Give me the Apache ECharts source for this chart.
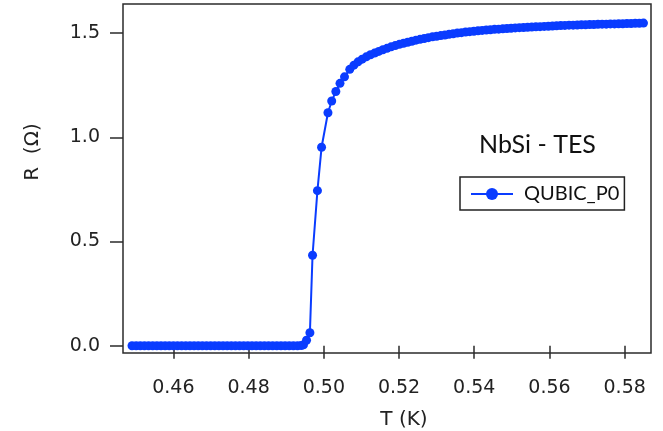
<!DOCTYPE html>
<html>
<head>
<meta charset="utf-8">
<script src="https://cdn.jsdelivr.net/npm/echarts@6/dist/echarts.min.js"></script>
<style>
html,body{margin:0;padding:0;background:#fff;}
#chart{width:663px;height:431px;}
</style>
</head>
<body>
<div id="chart"></div>
<script>
// Temperature (K)
const temperatureK = [
  0.4490, 0.4501, 0.4512, 0.4523, 0.4534, 0.4545, 0.4556, 0.4567, 0.4578, 0.4589,
  0.4600, 0.4611, 0.4622, 0.4633, 0.4644, 0.4655, 0.4666, 0.4677, 0.4688, 0.4699,
  0.4710, 0.4721, 0.4732, 0.4743, 0.4754, 0.4765, 0.4776, 0.4787, 0.4798, 0.4809,
  0.4820, 0.4831, 0.4842, 0.4853, 0.4864, 0.4875, 0.4886, 0.4897, 0.4908, 0.4919,
  0.4930, 0.4940, 0.4946, 0.4954, 0.4963, 0.4970, 0.4983, 0.4994, 0.5011, 0.5021,
  0.5032, 0.5043, 0.5055, 0.5069, 0.5080, 0.5091, 0.5102, 0.5113, 0.5124, 0.5135,
  0.5146, 0.5157, 0.5168, 0.5179, 0.5190, 0.5201, 0.5212, 0.5223, 0.5234, 0.5245,
  0.5256, 0.5267, 0.5278, 0.5289, 0.5300, 0.5311, 0.5322, 0.5333, 0.5344, 0.5355,
  0.5366, 0.5377, 0.5388, 0.5399, 0.5410, 0.5421, 0.5432, 0.5443, 0.5454, 0.5465,
  0.5476, 0.5487, 0.5498, 0.5509, 0.5520, 0.5531, 0.5542, 0.5553, 0.5564, 0.5575,
  0.5586, 0.5597, 0.5608, 0.5619, 0.5630, 0.5641, 0.5652, 0.5663, 0.5674, 0.5685,
  0.5696, 0.5707, 0.5718, 0.5729, 0.5740, 0.5751, 0.5762, 0.5773, 0.5784, 0.5795,
  0.5806, 0.5817, 0.5828, 0.5839, 0.5850
];
// Resistance (Ohm)
const resistanceOhm = [
  0.000, 0.000, 0.000, 0.000, 0.000, 0.000, 0.000, 0.000, 0.000, 0.000,
  0.000, 0.000, 0.000, 0.000, 0.000, 0.000, 0.000, 0.000, 0.000, 0.000,
  0.000, 0.000, 0.000, 0.000, 0.000, 0.000, 0.000, 0.000, 0.000, 0.000,
  0.000, 0.000, 0.000, 0.000, 0.000, 0.000, 0.000, 0.000, 0.000, 0.000,
  0.000, 0.001, 0.004, 0.026, 0.062, 0.434, 0.744, 0.952, 1.118, 1.174,
  1.220, 1.259, 1.290, 1.326, 1.346, 1.362, 1.375, 1.386, 1.396, 1.404,
  1.412, 1.420, 1.427, 1.434, 1.440, 1.446, 1.451, 1.456, 1.461, 1.466,
  1.470, 1.474, 1.478, 1.482, 1.485, 1.488, 1.491, 1.494, 1.497, 1.500,
  1.502, 1.505, 1.507, 1.509, 1.511, 1.513, 1.515, 1.516, 1.518, 1.519,
  1.521, 1.522, 1.523, 1.525, 1.526, 1.527, 1.528, 1.529, 1.530, 1.531,
  1.532, 1.533, 1.534, 1.535, 1.536, 1.537, 1.538, 1.538, 1.539, 1.540,
  1.540, 1.541, 1.541, 1.542, 1.543, 1.543, 1.544, 1.544, 1.545, 1.545,
  1.546, 1.546, 1.547, 1.547, 1.548
];
const xTickValues = [0.46, 0.48, 0.50, 0.52, 0.54, 0.56, 0.58];
const yTickValues = [0.0, 0.5, 1.0, 1.5];
const seriesName = 'QUBIC_P0';
const annotationText = 'NbSi - TES';
const xAxisTitle = 'T (K)';
const yAxisTitle = 'R  (\u03A9)';

const blue = '#0a3cff';
const frame = '#2b2b2b';
const tickFont = 'DejaVu Sans';

const points = temperatureK.map((t, i) => [t, resistanceOhm[i]]);

const chart = echarts.init(document.getElementById('chart'), null, {renderer: 'canvas'});
chart.setOption({
  animation: false,
  backgroundColor: '#ffffff',
  grid: {
    left: 123, right: 12, top: 4, bottom: 78,
    show: true, borderColor: frame, borderWidth: 1.5, backgroundColor: 'transparent',
    containLabel: false, outerBoundsMode: 'none'
  },
  xAxis: {
    type: 'value', min: 0.4466, max: 0.5870,
    axisLine: {show: false},
    splitLine: {show: false},
    axisTick: {show: true, inside: false, length: 13, customValues: xTickValues,
      lineStyle: {color: frame, width: 1.5}},
    axisLabel: {customValues: xTickValues, formatter: v => v.toFixed(2), margin: 26,
      fontFamily: tickFont, fontSize: 19, color: '#222'}
  },
  yAxis: {
    type: 'value', min: -0.035, max: 1.6396,
    axisLine: {show: false},
    splitLine: {show: false},
    axisTick: {show: true, inside: false, length: 13, customValues: yTickValues,
      lineStyle: {color: frame, width: 1.5}},
    axisLabel: {customValues: yTickValues, formatter: v => v.toFixed(1), margin: 23,
      fontFamily: tickFont, fontSize: 19, color: '#222'}
  },
  legend: {
    show: true, left: 460, top: 177, orient: 'horizontal',
    padding: [7, 5, 6, 10],
    borderColor: '#222', borderWidth: 1.5,
    itemWidth: 42, itemHeight: 15,
    textStyle: {fontFamily: 'Lato', fontSize: 20, color: '#111', padding: [0, 0, 0, 6]},
    data: [seriesName]
  },
  graphic: [
    {type: 'text', x: 537.5, y: 145,
      style: {text: annotationText, font: '25px Lato', fill: '#111', align: 'center', verticalAlign: 'middle'}},
    {type: 'text', x: 404, y: 420,
      style: {text: xAxisTitle, font: '20px "DejaVu Sans"', fill: '#222', align: 'center', verticalAlign: 'middle'}},
    {type: 'text', x: 32.5, y: 152, rotation: Math.PI / 2,
      style: {text: yAxisTitle, font: '20px "DejaVu Sans"', fill: '#222', align: 'center', verticalAlign: 'middle'}}
  ],
  series: [{
    name: seriesName,
    type: 'line',
    data: points,
    symbol: 'circle',
    symbolSize: 9,
    showSymbol: true,
    showAllSymbol: true,
    itemStyle: {color: blue},
    lineStyle: {color: blue, width: 2},
    emphasis: {disabled: true}
  }]
});
</script>
</body>
</html>
